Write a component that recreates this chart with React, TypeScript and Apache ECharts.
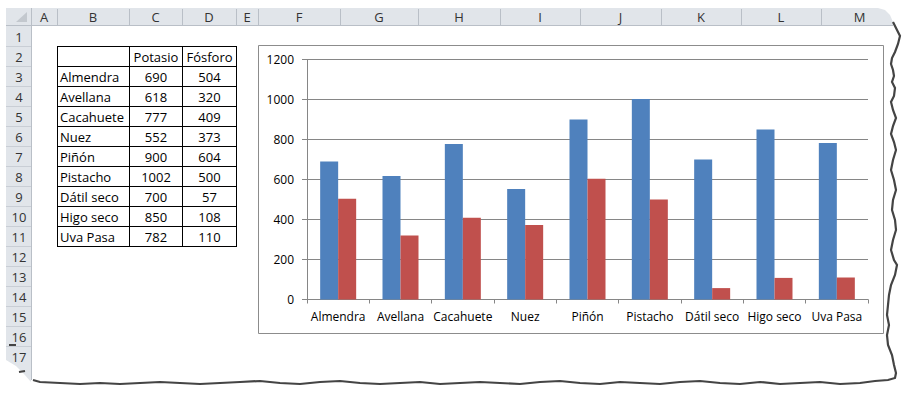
import React, { useEffect, useRef } from "react";
import * as echarts from "echarts";

const categories = ["Almendra", "Avellana", "Cacahuete", "Nuez", "Piñón", "Pistacho", "Dátil seco", "Higo seco", "Uva Pasa"];
const seriesNames = ["Potasio", "Fósforo"];
const potasio = [690, 618, 777, 552, 900, 1002, 700, 850, 782];
const fosforo = [504, 320, 409, 373, 604, 500, 57, 108, 110];
const yMin = 0;
const yMax = 1200;
const yStep = 200;
const columnLetters = ["A", "B", "C", "D", "E", "F", "G", "H", "I", "J", "K", "L", "M"];
const rowCount = 17;

const FONT = "'Open Sans', 'DejaVu Sans', sans-serif";

export default function App() {
  const ref = useRef<HTMLDivElement>(null);
  useEffect(() => {
    if (!ref.current) return;
    const chart = echarts.init(ref.current, null, { renderer: "svg" });

    // spreadsheet geometry
    const colX = [6, 31, 57, 129, 182, 236, 258, 340, 418, 500, 580, 661, 741, 821, 900];
    const hdrTop = 8, hdrBot = 25;
    const rowTop = (r: number) => 26 + (r - 1) * 20;
    const g: any[] = [];

    // column header bar
    g.push({ type: "polygon", z: 1, shape: { points: [[6, hdrTop], [878, hdrTop], [885, 10], [890, 15], [893, 22], [893, hdrBot], [6, hdrBot]] }, style: { fill: "#e1e5ea", stroke: null } });
    g.push({ type: "line", z: 2, shape: { x1: 6, y1: hdrBot + 0.5, x2: 893, y2: hdrBot + 0.5 }, style: { stroke: "#b9bfc7", lineWidth: 1 } });
    // row header column
    g.push({ type: "polygon", z: 1, shape: { points: [[6, hdrBot], [31, hdrBot], [31, 382], [24, 374], [16, 366], [6, 360]] }, style: { fill: "#e1e5ea", stroke: null } });
    g.push({ type: "line", z: 2, shape: { x1: 31.5, y1: hdrTop, x2: 31.5, y2: 380 }, style: { stroke: "#b9bfc7", lineWidth: 1 } });
    // corner triangle
    g.push({ type: "polygon", z: 2, shape: { points: [[16, 22], [27, 22], [27, 12]] }, style: { fill: "#c3c8ce" } });
    // header separators + letters
    for (let i = 0; i < columnLetters.length; i++) {
      const x0 = colX[i + 1], x1 = colX[i + 2];
      if (i > 0) g.push({ type: "line", z: 2, shape: { x1: x0 + 0.5, y1: hdrTop + 1, x2: x0 + 0.5, y2: hdrBot }, style: { stroke: "#b9bfc7", lineWidth: 1 } });
      g.push({ type: "text", z: 3, style: { text: columnLetters[i], x: (x0 + Math.min(x1, 898)) / 2, y: 17, textAlign: "center", textVerticalAlign: "middle", fill: "#333", font: `13px ${FONT}` } });
    }
    // row separators + numbers
    for (let r = 1; r <= rowCount; r++) {
      const y0 = rowTop(r);
      if (r < rowCount) g.push({ type: "line", z: 2, shape: { x1: 6, y1: y0 + 20 + 0.5, x2: 31, y2: y0 + 20 + 0.5 }, style: { stroke: "#c9ced5", lineWidth: 1 } });
      g.push({ type: "text", z: 3, style: { text: String(r), x: 19, y: y0 + 11, textAlign: "center", textVerticalAlign: "middle", fill: "#333", font: `13px ${FONT}` } });
    }

    // data table B2:D11
    const tX = [57, 129, 182, 236];
    const tTop = 46;
    const nRows = categories.length + 1;
    for (let r = 0; r <= nRows; r++) {
      const y = tTop + r * 20 + 0.5;
      g.push({ type: "line", z: 4, shape: { x1: tX[0], y1: y, x2: tX[3] + 1, y2: y }, style: { stroke: "#000", lineWidth: 1 } });
    }
    for (const x of tX) {
      g.push({ type: "line", z: 4, shape: { x1: x + 0.5, y1: tTop, x2: x + 0.5, y2: tTop + nRows * 20 + 1 }, style: { stroke: "#000", lineWidth: 1 } });
    }
    const cellText = (text: string, col: number, row: number) => {
      const y = tTop + row * 20 + 11;
      if (col === 0) {
        g.push({ type: "text", z: 5, style: { text, x: tX[0] + 3, y, textAlign: "left", textVerticalAlign: "middle", fill: "#000", font: `13px ${FONT}` } });
      } else {
        g.push({ type: "text", z: 5, style: { text, x: (tX[col] + tX[col + 1]) / 2 + 0.5, y, textAlign: "center", textVerticalAlign: "middle", fill: "#000", font: `13px ${FONT}` } });
      }
    };
    cellText(seriesNames[0], 1, 0);
    cellText(seriesNames[1], 2, 0);
    categories.forEach((c, i) => {
      cellText(c, 0, i + 1);
      cellText(String(potasio[i]), 1, i + 1);
      cellText(String(fosforo[i]), 2, i + 1);
    });

    // chart frame
    g.push({ type: "rect", z: -10, shape: { x: 258.5, y: 45.5, width: 625, height: 288 }, style: { fill: "#fff", stroke: "#8c8c8c", lineWidth: 1 } });

    // torn edge
    const torn = [[893, 22], [897, 30], [900, 36], [898, 44], [895, 52], [892, 58], [891, 64], [893, 70], [894, 76], [892, 82], [895, 88], [894, 96], [891, 102], [893, 110], [896, 118], [893, 126], [891, 134], [894, 142], [896, 150], [893, 160], [891, 170], [894, 180], [896, 190], [893, 200], [892, 210], [895, 220], [896, 230], [893, 240], [891, 250], [894, 260], [897, 265], [895, 275], [891, 285], [889, 295], [888, 305], [887, 315], [889, 325], [887, 335], [888, 345], [892, 355], [894, 365], [896, 373], [895, 378], [888, 380], [875, 381], [860, 383], [840, 384], [820, 382], [800, 383], [780, 384], [760, 382], [740, 384], [720, 383], [700, 381], [680, 382], [660, 384], [640, 383], [620, 382], [600, 384], [580, 383], [560, 381], [540, 382], [520, 384], [500, 383], [480, 382], [460, 383], [440, 384], [420, 382], [400, 383], [380, 384], [360, 383], [340, 381], [320, 382], [300, 384], [280, 383], [260, 381], [240, 382], [220, 383], [200, 384], [180, 383], [160, 382], [140, 383], [120, 384], [100, 383], [80, 384], [60, 383], [40, 382], [33, 380]];
    g.push({ type: "polyline", z: 20, shape: { points: torn }, style: { stroke: "#444", lineWidth: 2.2, fill: null } });
    g.push({ type: "line", z: 20, shape: { x1: 9, y1: 345, x2: 16, y2: 345 }, style: { stroke: "#444", lineWidth: 2 } });
    g.push({ type: "line", z: 20, shape: { x1: 19, y1: 372, x2: 25, y2: 371 }, style: { stroke: "#444", lineWidth: 2 } });

    chart.setOption({
      animation: false,
      backgroundColor: "#fff",
      graphic: { elements: g },
      grid: { left: 307, right: 40, top: 59.5, bottom: 93.5, containLabel: false },
      xAxis: {
        type: "category",
        data: categories,
        boundaryGap: true,
        axisLine: { lineStyle: { color: "#868686", width: 1 } },
        axisTick: { show: true, length: 4, lineStyle: { color: "#868686" } },
        axisLabel: { color: "#000", fontFamily: FONT, fontSize: 12, margin: 11, interval: 0 },
      },
      yAxis: {
        type: "value",
        min: yMin,
        max: yMax,
        interval: yStep,
        axisLine: { show: true, lineStyle: { color: "#868686", width: 1 } },
        axisTick: { show: true, length: 5, lineStyle: { color: "#868686" } },
        axisLabel: { color: "#000", fontFamily: FONT, fontSize: 12, margin: 13, formatter: (v: number) => String(v) },
        splitLine: { show: true, lineStyle: { color: "#868686", width: 1 } },
      },
      series: [
        { name: seriesNames[0], type: "bar", data: potasio, barWidth: 18, barGap: "0%", itemStyle: { color: "#4f81bd" } },
        { name: seriesNames[1], type: "bar", data: fosforo, barWidth: 18, barGap: "0%", itemStyle: { color: "#c0504d" } },
      ],
    });
    return () => chart.dispose();
  }, []);
  return <div ref={ref} style={{ position: "absolute", left: 0, top: 0, width: 908, height: 393 }} />;
}
